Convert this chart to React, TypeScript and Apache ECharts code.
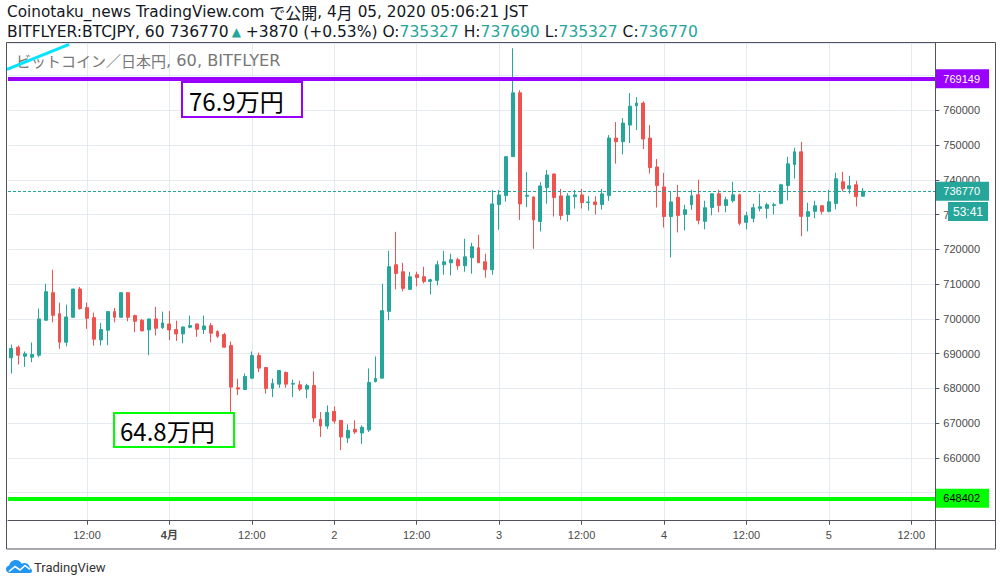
import React, { useEffect, useRef } from 'react';
import * as echarts from 'echarts';

// ---- data (hourly candles, 2020-03-31 01:00 .. 2020-04-05 05:00 JST) ----
const DAYS = ['03-31', '04-01', '04-02', '04-03', '04-04', '04-05'];
const categories: string[] = [];
for (let h = 1; h <= 135; h++) {
  categories.push(`${DAYS[Math.floor(h / 24)]} ${String(h % 24).padStart(2, '0')}:00`);
}

const xTickLabels: Record<string, string> = {
  '03-31 12:00': '12:00',
  '04-01 00:00': '4月',
  '04-01 12:00': '12:00',
  '04-02 00:00': '2',
  '04-02 12:00': '12:00',
  '04-03 00:00': '3',
  '04-03 12:00': '12:00',
  '04-04 00:00': '4',
  '04-04 12:00': '12:00',
  '04-05 00:00': '5',
  '04-05 12:00': '12:00',
};

const opens = [
  688800, 691870, 689280, 689000, 689570, 699620, 707560, 701530, 693300, 700480,
  708610, 703250, 700380, 693970, 696750, 702110, 700480, 707560, 700960, 699620,
  696840, 700000, 697510, 698560, 696940, 695690, 697610, 698560, 696940, 698090,
  696360, 695500, 692340, 680190, 679710, 682970, 689470, 686030, 680000, 681240,
  684590, 681240, 681050, 679810, 680860, 671100, 669180, 673400, 670810, 665740,
  668230, 667180, 668040, 682010, 682970, 702200, 715600, 713590, 708520, 712730,
  712150, 710810, 711100, 715600, 716170, 717040, 715310, 717610, 720480, 716460,
  714160, 732920, 735500, 746700, 765070, 735310, 735120, 728040, 737800, 741720,
  735410, 730050, 735210, 735690, 733490, 733680, 732920, 735500, 752060, 751000,
  755790, 761340, 762110, 752060, 743730, 737990, 729470, 735000, 730090, 732870,
  735740, 728090, 732100, 736030, 732680, 734020, 735740, 727800, 728950, 731820,
  731820, 732680, 733250, 738420, 744450, 748090, 729520, 730960, 732580, 730960,
  733250, 739470, 737460, 738610, 735327,
];
const closes = [
  691480, 689570, 689950, 689760, 700000, 707850, 701050, 693300, 700570, 708610,
  702970, 700190, 694160, 696940, 702110, 700480, 707560, 700480, 699330, 696560,
  700000, 697320, 698850, 696840, 695690, 697700, 698090, 697030, 697990, 695890,
  695020, 691870, 680380, 679810, 683440, 689470, 685840, 680000, 681440, 685170,
  681240, 681440, 679810, 680860, 671480, 669180, 673110, 670620, 666030, 667940,
  667460, 668800, 681720, 682870, 702390, 715030, 713110, 708800, 712150, 711960,
  710810, 711290, 715600, 716460, 717040, 715310, 717900, 720770, 716170, 714160,
  733110, 735690, 746700, 765070, 733110, 735600, 728510, 738280, 741430, 734930,
  729760, 735410, 735690, 733490, 733680, 732920, 735980, 752060, 751000, 756360,
  761240, 762110, 751770, 743540, 738370, 729470, 733680, 729780, 731430, 735450,
  728370, 732010, 736030, 732680, 734310, 735740, 727510, 729710, 732010, 732300,
  732870, 732870, 738610, 744640, 748090, 729520, 730860, 732580, 730960, 733730,
  740330, 737460, 738330, 735170, 736770,
];
const lows = [
  684300, 686890, 686220, 687560, 689000, 699620, 699040, 691390, 692150, 700380,
  702680, 697130, 692340, 692340, 692440, 699040, 700400, 699330, 696170, 696460,
  689570, 695220, 697130, 693880, 693680, 693010, 697320, 694830, 695690, 693300,
  694550, 691800, 672540, 678090, 679520, 682680, 684690, 678470, 677510, 680190,
  680190, 677510, 679230, 677220, 670330, 666030, 668320, 669860, 662290, 664300,
  666890, 664020, 667460, 681720, 682900, 699620, 708520, 707940, 708450, 709380,
  710240, 707080, 709670, 712730, 712540, 714160, 713590, 713020, 716100, 711870,
  712730, 725640, 733780, 746600, 728510, 732150, 720190, 725170, 733200, 729470,
  728510, 728040, 731770, 731770, 731190, 730050, 731480, 733970, 744690, 747370,
  750620, 754350, 748900, 741820, 732060, 726310, 717700, 724900, 725500, 731430,
  727220, 725790, 729810, 730670, 730670, 733440, 726940, 725790, 727800, 730960,
  728950, 730090, 732970, 734110, 740430, 723780, 725210, 728950, 730090, 730670,
  731530, 736700, 736030, 732390, 735327,
];
const highs = [
  692630, 692340, 690620, 693210, 702970, 710140, 714160, 704690, 704120, 708700,
  709190, 704690, 701820, 698850, 702200, 703160, 707650, 707650, 701240, 700000,
  700100, 703450, 702110, 702300, 699520, 697800, 700960, 698650, 700960, 698850,
  696750, 695980, 693490, 682770, 684310, 690620, 690330, 686100, 682870, 685250,
  684880, 682580, 682200, 681340, 684880, 673200, 675120, 674830, 670900, 669660,
  670810, 669380, 685740, 689190, 710140, 719620, 725070, 716170, 713590, 713590,
  715030, 711580, 716750, 719620, 718760, 717610, 723060, 721920, 724210, 718760,
  737130, 737130, 746800, 777900, 765840, 742300, 735200, 739330, 742870, 741800,
  737420, 736170, 737130, 737420, 735310, 735310, 737420, 752920, 756650, 757800,
  764980, 763830, 762680, 755790, 746030, 742010, 736550, 738590, 732870, 737180,
  740050, 734020, 736100, 737180, 735170, 739470, 736030, 730860, 733160, 736030,
  733440, 733440, 738900, 746650, 749230, 750960, 733440, 734020, 732650, 737180,
  742060, 742340, 741200, 739760, 737690,
];

const resistance = 769149;
const support = 648402;
const lastPrice = 736770;
const hiddenPriceTicks = [770000]; // fully covered by the resistance price tag in the reference

const UP = '#26a69a';
const DOWN = '#ef5350';
const GRID = '#e4eaef';
const FRAME = '#50535e';
const LABEL = '#4a4a4a';
const PURPLE = '#9900ff';
const GREEN = '#00ff00';

const tickFn = (_i: number, v: string) => v in xTickLabels;

echarts.graphic.registerShape(
  'tvcloud',
  echarts.graphic.extendPath(
    'M4 13 C1.6 13 0 11.3 0 9.3 C0 7.4 1.4 5.9 3.2 5.6 C3.8 2.4 6.5 0 9.8 0 C12.4 0 14.6 1.5 15.7 3.7 C16.5 3.2 17.4 3 18.4 3 C21.3 3 23.6 5.2 23.9 8 C25.2 8.5 26 9.7 26 11 C26 12.1 25.2 13 24 13 Z',
    {}
  )
);

export default function App() {
  const ref = useRef<HTMLDivElement>(null);
  useEffect(() => {
    if (!ref.current) return;
    const chart = echarts.init(ref.current, undefined, { renderer: 'svg' });
    const data = opens.map((o, i) => [o, closes[i], lows[i], highs[i]]);
    const hdrFont = '"DejaVu Sans", "Noto Sans CJK JP", sans-serif';
    const cjk = '"Noto Sans CJK JP", sans-serif';
    const priceLabel = (bg: string, fg: string, txt: string) => ({
      show: true,
      position: 'end',
      distance: 0,
      formatter: txt,
      backgroundColor: bg,
      color: fg,
      fontSize: 11,
      lineHeight: 11,
      fontFamily: '"Liberation Sans", Arial, sans-serif',
      padding: [4, 9, 4, 8],
    });
    chart.setOption({
      animation: false,
      backgroundColor: '#ffffff',
      grid: { left: 8, top: 43.3, right: 66.7, bottom: 65.3, containLabel: false },
      xAxis: {
        type: 'category',
        data: categories,
        boundaryGap: true,
        axisLine: { show: true, lineStyle: { color: FRAME, width: 1 } },
        axisTick: { show: true, alignWithLabel: true, interval: tickFn, length: 4, lineStyle: { color: FRAME } },
        axisLabel: {
          interval: tickFn,
          formatter: (v: string) => (xTickLabels[v] === '4月' ? '{b|4月}' : xTickLabels[v] || ''),
          color: LABEL,
          fontSize: 11,
          fontFamily: '"Liberation Sans", Arial, sans-serif',
          margin: 9,
          rich: { b: { fontWeight: 'bold', fontSize: 11, color: LABEL, fontFamily: '"Liberation Sans", "Noto Sans CJK JP", sans-serif' } },
        },
        splitLine: { show: true, interval: tickFn, alignWithLabel: true, lineStyle: { color: GRID, width: 1 } },
      },
      yAxis: {
        type: 'value',
        position: 'right',
        min: 641942,
        max: 779324,
        splitNumber: 14,
        axisLine: { show: false },
        axisTick: { show: true, length: 4, lineStyle: { color: FRAME } },
        axisLabel: {
          color: LABEL,
          fontSize: 11,
          fontFamily: '"Liberation Sans", Arial, sans-serif',
          margin: 8,
          showMinLabel: false,
          showMaxLabel: false,
          formatter: (v: number) => (hiddenPriceTicks.includes(Math.round(v)) ? '' : String(v)),
        },
        splitLine: { show: true, lineStyle: { color: GRID, width: 1 } },
      },
      series: [
        {
          type: 'candlestick',
          data,
          barWidth: 3.4,
          itemStyle: { color: UP, color0: DOWN, borderColor: UP, borderColor0: DOWN, borderWidth: 1 },
          markLine: {
            silent: true,
            symbol: ['none', 'none'],
            animation: false,
            data: [
              {
                yAxis: resistance,
                lineStyle: { color: PURPLE, width: 4, type: 'solid' },
                label: priceLabel(PURPLE, '#ffffff', String(resistance)),
              },
              {
                yAxis: support,
                lineStyle: { color: GREEN, width: 4, type: 'solid' },
                label: priceLabel(GREEN, '#000000', String(support)),
              },
              {
                yAxis: lastPrice,
                lineStyle: { color: UP, width: 1, type: [3, 2] },
                label: priceLabel(UP, '#ffffff', String(lastPrice)),
              },
            ],
          },
        },
      ],
      graphic: [
        // frame
        { type: 'rect', z: 100, silent: true, shape: { x: 6.5, y: 42.5, width: 989, height: 506.5 }, style: { fill: 'none', stroke: FRAME, lineWidth: 1 } },
        { type: 'line', z: 100, silent: true, shape: { x1: 935.5, y1: 42.5, x2: 935.5, y2: 549 }, style: { stroke: FRAME, lineWidth: 1 } },
        { type: 'line', z: 100, silent: true, shape: { x1: 935.5, y1: 520.5, x2: 995.5, y2: 520.5 }, style: { stroke: FRAME, lineWidth: 1 } },
        // header
        {
          type: 'text', left: 7, top: 4,
          style: {
            text: '{l|Coinotaku_news TradingView.com }{c|で公開}{l|, 4}{c|月}{l| 05, 2020 05:06:21 JST}',
            fill: '#131722', font: `15.3px ${hdrFont}`,
            rich: {
              l: { fill: '#131722', fontSize: 15.3, fontFamily: hdrFont, lineHeight: 18 },
              c: { fill: '#131722', fontSize: 16, fontFamily: cjk, lineHeight: 18 },
            },
          },
        },
        {
          type: 'text', left: 7, top: 24.5,
          style: {
            text: '{k|BITFLYER:BTCJPY, 60 736770}{t|▲}{k| +3870 (+0.53%) O:}{g|735327}{k| H:}{g|737690}{k| L:}{g|735327}{k| C:}{g|736770}',
            font: `15.5px ${hdrFont}`,
            rich: {
              k: { fill: '#131722', fontSize: 15.5, fontFamily: hdrFont, lineHeight: 18 },
              g: { fill: UP, fontSize: 15.5, fontFamily: hdrFont, lineHeight: 18 },
              t: { fill: UP, fontSize: 12, fontFamily: 'DejaVu Sans', lineHeight: 18, padding: [0, 0, 0, 3] },
            },
          },
        },
        // symbol caption
        {
          type: 'text', left: 16, top: 52, z: 50,
          style: {
            text: '{c|ビットコイン／日本円}{l|, 60, BITFLYER}',
            fill: '#787878',
            font: `15px ${hdrFont}`,
            rich: {
              c: { fill: '#787878', fontSize: 15, fontFamily: cjk },
              l: { fill: '#787878', fontSize: 16.2, fontFamily: hdrFont },
            },
          },
        },
        { type: 'line', z: 60, silent: true, shape: { x1: 7, y1: 69.3, x2: 69, y2: 44.3 }, style: { stroke: '#00e5ff', lineWidth: 3 } },
        // annotations
        {
          type: 'group',
          children: [
            { type: 'rect', z: 60, shape: { x: 182, y: 82, width: 120, height: 35 }, style: { fill: '#ffffff', stroke: PURPLE, lineWidth: 2 } },
            { type: 'text', z: 61, x: 189, y: 100, style: { text: '76.9万円', fill: '#000', font: '24px "Noto Sans CJK JP", sans-serif', verticalAlign: 'middle' } },
          ],
        },
        {
          type: 'group',
          children: [
            { type: 'rect', z: 60, shape: { x: 114, y: 413, width: 120, height: 34 }, style: { fill: '#ffffff', stroke: GREEN, lineWidth: 2 } },
            { type: 'text', z: 61, x: 120, y: 430.5, style: { text: '64.8万円', fill: '#000', font: '24px "Noto Sans CJK JP", sans-serif', verticalAlign: 'middle' } },
          ],
        },
        // countdown
        {
          type: 'group',
          children: [
            { type: 'rect', z: 110, shape: { x: 948, y: 202, width: 40, height: 19 }, style: { fill: UP } },
            { type: 'text', z: 111, x: 968, y: 211.5, style: { text: '53:41', fill: '#fff', font: '12px "Liberation Sans", Arial, sans-serif', align: 'center', verticalAlign: 'middle' } },
          ],
        },
        // TradingView logo
        { type: 'tvcloud', x: 6, y: 560, scaleX: 1, scaleY: 1, style: { fill: '#2196f3' } },
        { type: 'polyline', shape: { points: [[3, 11.5], [9, 6.5], [14, 10], [19, 5.5], [24, 9.5]] }, x: 6, y: 560, style: { stroke: '#ffffff', lineWidth: 1.6, fill: 'none' } },
        { type: 'text', x: 34, y: 567, style: { text: 'TradingView', fill: '#333', font: '13px Roboto, sans-serif', verticalAlign: 'middle' } },
      ],
    });
    return () => chart.dispose();
  }, []);
  return <div ref={ref} style={{ position: 'absolute', left: 0, top: 0, width: 1002, height: 586 }} />;
}
